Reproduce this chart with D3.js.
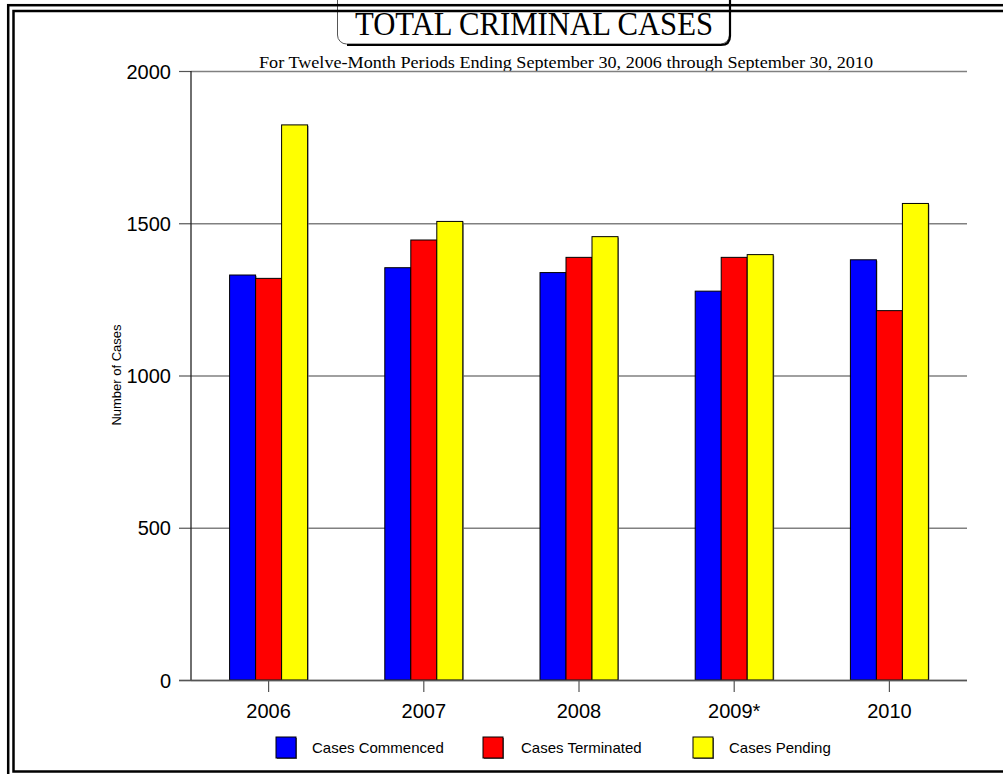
<!DOCTYPE html>
<html><head><meta charset="utf-8">
<script src="https://cdn.jsdelivr.net/npm/d3@7"></script>
<style>
html,body{margin:0;padding:0;background:#fff;}
svg{display:block;}
</style></head>
<body>
<svg id="chart" width="1003" height="774"></svg>
<script>
const years = ["2006", "2007", "2008", "2009*", "2010"];
const commenced = [1330, 1354, 1338, 1277, 1380];
const terminated = [1319, 1445, 1388, 1388, 1213];
const pending = [1823, 1506, 1456, 1397, 1565];
const seriesNames = ["Cases Commenced", "Cases Terminated", "Cases Pending"];
const seriesColors = ["#0000FF", "#FF0000", "#FFFF00"];
const yTicks = [0, 500, 1000, 1500, 2000];

(function () {
const svg = d3.select("#chart");
const pLeft = 191, pRight = 967, pTop = 71, pBottom = 680;

const x = d3.scaleBand().domain(years).range([pLeft, pRight]);
const y = d3.scaleLinear().domain([0, 2000]).range([pBottom, pTop]);
const barW = 26;
const xs = d3.scaleBand().domain(seriesNames).range([-barW * 1.5, barW * 1.5]);

// title box
svg.append("rect").attr("x", 337.5).attr("y", -12).attr("width", 392).attr("height", 56)
  .attr("rx", 9).attr("ry", 9).attr("fill", "#fff").attr("stroke", "#555").attr("stroke-width", 1);
svg.append("path")
  .attr("d", "M730,-5 L730,36 Q730,45 721,45 L347,45")
  .attr("fill", "none").attr("stroke", "#000").attr("stroke-width", 2.2);

// frame
svg.append("rect").attr("x", 8.2).attr("y", 5.2).attr("width", 1010).attr("height", 774)
  .attr("fill", "none").attr("stroke", "#000").attr("stroke-width", 2.5);
svg.append("rect").attr("x", 13.5).attr("y", 11).attr("width", 1010).attr("height", 760.5)
  .attr("fill", "none").attr("stroke", "#000").attr("stroke-width", 2.5);

svg.append("text").attr("x", 534).attr("y", 35).attr("text-anchor", "middle")
  .attr("font-family", "'Liberation Serif', 'Times New Roman', serif").attr("font-size", 34)
  .attr("textLength", 358).attr("lengthAdjust", "spacingAndGlyphs")
  .text("TOTAL CRIMINAL CASES");

svg.append("text").attr("x", 566).attr("y", 68).attr("text-anchor", "middle")
  .attr("font-family", "'Liberation Serif', 'Times New Roman', serif").attr("font-size", 17)
  .attr("textLength", 614).attr("lengthAdjust", "spacingAndGlyphs")
  .text("For Twelve-Month Periods Ending September 30, 2006 through September 30, 2010");

// gridlines + y ticks
const yAxis = d3.axisLeft(y).tickValues(yTicks).tickFormat(d3.format("d"))
  .tickSize(-(pRight - pLeft)).tickSizeOuter(0).tickPadding(20);
const gy = svg.append("g").attr("transform", `translate(${pLeft},0)`).call(yAxis);
gy.select(".domain").remove();
gy.selectAll(".tick line").attr("stroke", "#808080").attr("stroke-width", 1.6);
gy.selectAll(".tick").append("line").attr("x1", -12).attr("x2", 0).attr("stroke", "#555").attr("stroke-width", 1.2);
gy.selectAll(".tick text").attr("font-family", "'Liberation Sans', Arial, sans-serif")
  .attr("font-size", 20).attr("fill", "#000").attr("dy", "0.36em");

// bars
const series = [commenced, terminated, pending];
const groups = svg.append("g").selectAll("g").data(years).join("g")
  .attr("transform", d => `translate(${x(d) + x.bandwidth() / 2},0)`);
groups.selectAll("rect.shadow").data((d, i) => series.map((s, k) => ({k, v: s[i]}))).join("rect")
  .attr("class", "shadow")
  .attr("x", d => xs(seriesNames[d.k]) + 1).attr("y", d => y(d.v) + 1)
  .attr("width", barW).attr("height", d => pBottom - y(d.v) - 1)
  .attr("fill", "#888");
groups.selectAll("rect.bar").data((d, i) => series.map((s, k) => ({k, v: s[i]}))).join("rect")
  .attr("class", "bar")
  .attr("x", d => xs(seriesNames[d.k])).attr("y", d => y(d.v))
  .attr("width", barW).attr("height", d => pBottom - y(d.v))
  .attr("fill", d => seriesColors[d.k]).attr("stroke", "#000").attr("stroke-width", 1);

// y axis line
svg.append("line").attr("x1", pLeft).attr("x2", pLeft).attr("y1", pTop).attr("y2", pBottom)
  .attr("stroke", "#222").attr("stroke-width", 1.3);

// x axis
const xAxis = d3.axisBottom(x).tickSize(12).tickSizeOuter(0).tickPadding(12);
const gx = svg.append("g").attr("transform", `translate(0,${pBottom})`).call(xAxis);
gx.select(".domain").attr("d", `M179,0.5H${pRight}`).attr("stroke", "#555").attr("stroke-width", 1.4);
gx.selectAll(".tick line").attr("stroke", "#555").attr("stroke-width", 1.2);
gx.selectAll(".tick text").attr("font-family", "'Liberation Sans', Arial, sans-serif")
  .attr("font-size", 20).attr("fill", "#000");

// y label
svg.append("text").attr("transform", "translate(121,375) rotate(-90)").attr("text-anchor", "middle")
  .attr("font-family", "'Liberation Sans', Arial, sans-serif").attr("font-size", 13)
  .text("Number of Cases");

// legend
const legendX = [276, 483, 693];
const lg = svg.append("g").selectAll("g").data(seriesNames).join("g")
  .attr("transform", (d, i) => `translate(${legendX[i]},737)`);
lg.append("rect").attr("x", 1).attr("y", 1).attr("width", 20).attr("height", 21).attr("fill", "#666");
lg.append("rect").attr("width", 20).attr("height", 21).attr("fill", (d, i) => seriesColors[i])
  .attr("stroke", "#000").attr("stroke-width", 1);
lg.append("text").attr("x", (d, i) => [36, 38, 36][i]).attr("y", 16)
  .attr("font-family", "'Liberation Sans', Arial, sans-serif").attr("font-size", 15)
  .text(d => d);
})();
</script>
</body></html>
